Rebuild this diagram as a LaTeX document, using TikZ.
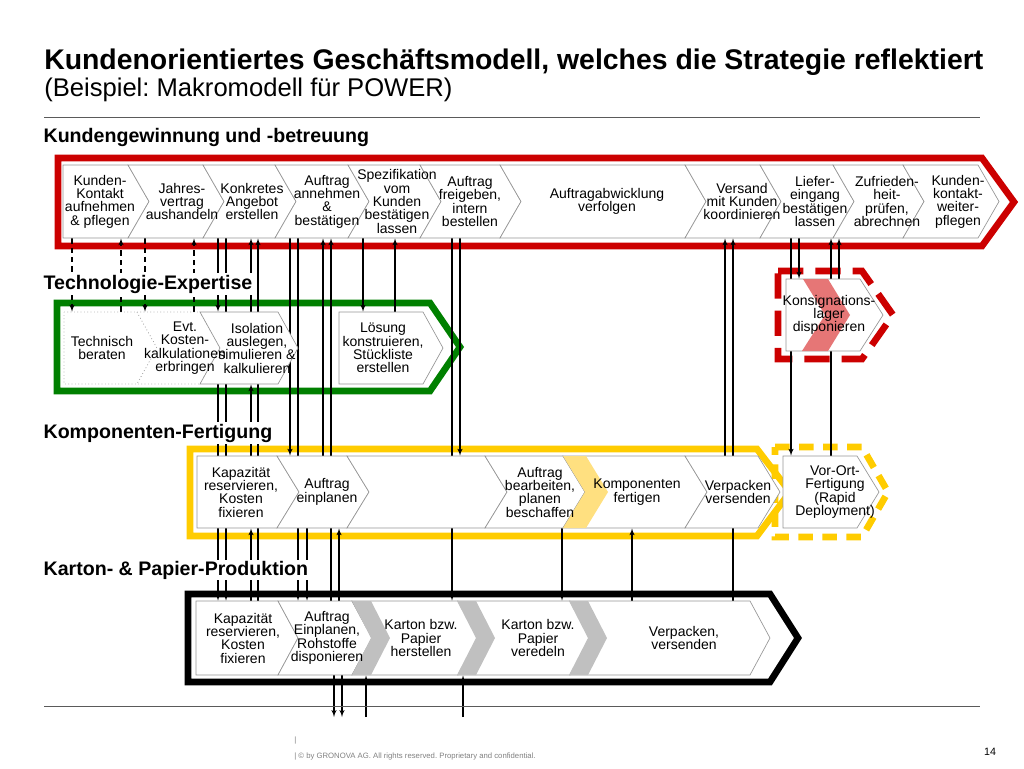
\documentclass[tikz,border=0pt]{standalone}
\usepackage{fontspec}
\setmainfont{Liberation Sans}
\frenchspacing
\usetikzlibrary{arrows,positioning,calc}
\definecolor{bandred}{RGB}{204,0,0}
\definecolor{bandgreen}{RGB}{0,128,0}
\definecolor{bandyellow}{RGB}{255,204,0}
\definecolor{boxgray}{RGB}{150,150,150}
\definecolor{rulegray}{RGB}{90,90,90}
\definecolor{markred}{RGB}{230,118,118}
\definecolor{markyellow}{RGB}{255,224,128}
\definecolor{markgray}{RGB}{192,192,192}
\tikzstyle{band}=[line width=5pt,line join=miter]
\tikzstyle{chevbox}=[draw=boxgray,fill=white,line width=0.5pt]
\tikzstyle{boxtext}=[align=center,inner sep=1pt,font=\fontsize{10.5}{10}\selectfont]
\tikzstyle{heading}=[anchor=west,fill=white,inner sep=1pt,font=\fontsize{14.7}{16}\selectfont\bfseries]
\tikzstyle{link}=[->,>=latex',line width=0.8pt]
\pgfdeclarelayer{back}
\pgfdeclarelayer{boxes}
\pgfdeclarelayer{marks}
\pgfsetlayers{back,boxes,marks,main}
% chevron box: [style]{name}{left x}{right x}{notch}{text x}{text}
\newcommand{\chev}[7][]{%
  \begin{pgfonlayer}{boxes}
    \draw[chevbox,#1] (#3,\ytop) -- (#4,\ytop) -- (#4+\tipd,\ymid) -- (#4,\ybot)
      -- (#3,\ybot) -- (#3+#5,\ymid) -- cycle;
  \end{pgfonlayer}
  \node[boxtext,minimum height={(\ybot-\ytop)*0.75pt}] (#2) at (#6,\ymid) {#7};}

\begin{document}
\begin{tikzpicture}[x=0.75pt,y=-0.75pt]
\useasboundingbox (0,0) rectangle (1024,768);
\node[anchor=base west,inner sep=0,font=\fontsize{21.3}{24}\selectfont\bfseries] (title) at (44,69)
  {Kundenorientiertes Geschäftsmodell, welches die Strategie reflektiert};
\node[anchor=base west,inner sep=0,font=\fontsize{19.2}{22}\selectfont] (subtitle) at (44,96)
  {(Beispiel: Makromodell für POWER)};
\draw[rulegray,line width=0.6pt] (44,117) -- (980,117);

\node[heading] (hKunde) at (42,137) {Kundengewinnung und -betreuung};
\node[heading] (hTech) at (42,284) {Technologie-Expertise};
\node[heading] (hKomp) at (42,433) {Komponenten-Fertigung};
\node[heading] (hKarton) at (42,570) {Karton- \& Papier-Produktion};

% Kundengewinnung
\def\ytop{165}\def\ybot{238}\def\ymid{201.5}\def\tipd{21}
\chev{r1}{63}{128}{0}{100}{Kunden-\\Kontakt\\aufnehmen\\\& pflegen}
\chev{r2}{128}{203}{21}{182}{Jahres-\\vertrag\\aushandeln}
\chev{r3}{203}{275}{21}{252}{Konkretes\\Angebot\\erstellen}
\chev{r4}{275}{348}{21}{327}{Auftrag\\annehmen\\\&\\bestätigen}
\chev{r5}{348}{420}{21}{397}{Spezifikation\\vom\\Kunden\\bestätigen\\lassen}
\chev{r6}{420}{500}{21}{470}{Auftrag\\freigeben,\\intern\\bestellen}
\chev{r7}{500}{685}{21}{607}{Auftragabwicklung\\verfolgen}
\chev{r8}{685}{760}{21}{742}{Versand\\mit Kunden\\koordinieren}
\chev{r9}{760}{833}{21}{815}{Liefer-\\eingang\\bestätigen\\lassen}
\chev{r10}{833}{903}{21}{887}{Zufrieden-\\heit-\\prüfen,\\abrechnen}
\chev{r11}{903}{978}{21}{958}{Kunden-\\kontakt-\\weiter-\\pflegen}

% Technologie
\def\ytop{312}\def\ybot{384}\def\ymid{348}\def\tipd{20}
\chev[dotted]{g1}{64}{137}{0}{102}{Technisch\\beraten}
\chev[dotted]{g2}{137}{200}{20}{185}{Evt.\\Kosten-\\kalkulationen\\erbringen}
\chev{g3}{200}{278}{20}{257}{Isolation\\auslegen,\\simulieren \&\\kalkulieren}
\chev{g4}{339}{423}{0}{383}{Lösung\\konstruieren,\\Stückliste\\erstellen}
\def\ytop{279}\def\ybot{351}\def\ymid{315}\def\tipd{23}
\chev{ks}{786}{860}{0}{829}{Konsignations-\\lager\\disponieren}

% Komponenten
\def\ytop{456}\def\ybot{528}\def\ymid{492}\def\tipd{22}
\chev{y1}{197}{277}{0}{241}{Kapazität\\reservieren,\\Kosten\\fixieren}
\chev{y2}{277}{347}{22}{327}{Auftrag\\einplanen}
\chev{y3}{347}{485}{22}{427}{}
\chev{y4}{485}{563}{22}{540}{Auftrag\\bearbeiten,\\planen\\beschaffen}
\chev{y5}{563}{685}{22}{637}{Komponenten\\fertigen}
\chev{y6}{685}{758}{22}{738}{Verpacken\\versenden}
\chev{vo}{783}{857}{0}{835}{Vor-Ort-\\Fertigung\\(Rapid\\Deployment)}

% Karton
\def\ytop{601}\def\ybot{675}\def\ymid{638}\def\tipd{20}
\chev{k1}{196}{278}{0}{243}{Kapazität\\reservieren,\\Kosten\\fixieren}
\chev{k2}{278}{352}{20}{327}{Auftrag\\Einplanen,\\Rohstoffe\\disponieren}
\chev{k3}{352}{458}{20}{421}{Karton bzw.\\Papier\\herstellen}
\chev{k4}{458}{570}{20}{538}{Karton bzw.\\Papier\\veredeln}
\chev{k5}{570}{750}{20}{684}{Verpacken,\\versenden}

\begin{pgfonlayer}{marks}
\fill[markred] (803,279) -- (828,279) -- (850,315) -- (828,351) -- (802,351) -- (825,315) -- cycle;
\fill[markyellow] (563,456) -- (586,456) -- (608,492) -- (586,528) -- (563,528) -- (585,492) -- cycle;
\foreach \x in {352,457,569}
  \fill[markgray] (\x,601) -- (\x+19,601) -- (\x+38,638) -- (\x+19,675) -- (\x,675) -- (\x+19,638) -- cycle;
\end{pgfonlayer}

\begin{pgfonlayer}{back}
\draw[band,bandred,dash pattern=on 19pt off 9pt] (778,271) -- (862,271) -- (893,315) -- (862,359) -- (778,359) -- cycle;
\draw[band,bandyellow,dash pattern=on 11pt off 7pt] (775,447) -- (862,447) -- (888,492) -- (862,537) -- (775,537) -- cycle;
\draw[band,bandred] (58,158) -- (982,158) -- (1014,202) -- (982,246) -- (58,246) -- cycle;
\draw[band,bandgreen] (57,303) -- (430,303) -- (460,347) -- (430,391) -- (57,391) -- cycle;
\draw[band,bandyellow] (190,449) -- (757,449) -- (790,492) -- (757,536) -- (190,536) -- cycle;
\draw[band,black] (188,594) -- (770,594) -- (798,638) -- (770,682) -- (188,682) -- cycle;
% links
\foreach \x/\a/\b in {72/r1/g1,145/r2/g2}
  \draw[link,dash pattern=on 4pt off 3pt] (\a.south-|\x,0) -- (\b.north-|\x,0);
\foreach \x/\a/\b in {121/g1/r1,194/g2/r2}
  \draw[link,dash pattern=on 4pt off 3pt] (\a.north-|\x,0) -- (\b.south-|\x,0);
\foreach \x/\a/\b in {218/r3/g3,226/r3/k1,290/r4/y2,298/r4/k2,363/r5/g4,452/r6/k3,460/r6/y3,
    791/r9/vo,799/r9/ks,218/g3/k1,307/y2/k2,562/y4/k4}
  \draw[link] (\a.south-|\x,0) -- (\b.north-|\x,0);
\foreach \x/\a/\b in {251/g3/r3,258/k1/r3,323/y2/r4,331/k2/r4,395/g4/r5,725/y6/r8,733/k5/r8,
    831/vo/r9,839/ks/r10,251/k1/y1,251/y1/g3,339/k2/y2,632/k5/y5}
  \draw[link] (\a.north-|\x,0) -- (\b.south-|\x,0);
\coordinate (out) at (0,717);
\foreach \x in {334,342}
  \draw[link] (k2.south-|\x,0) -- (out-|\x,0);
\foreach \x/\b in {366/k3,463/k4}
  \draw[link] (out-|\x,0) -- (\b.south-|\x,0);
\end{pgfonlayer}

\draw[rulegray,line width=0.6pt] (44,706) -- (980,706);
\node[anchor=west,inner sep=0,text=gray,font=\fontsize{5.8}{7}\selectfont] (bar) at (294,741) {|};
\node[anchor=west,inner sep=0,text=gray,font=\fontsize{5.8}{7}\selectfont] (copy) at (294,757)
  {| © by GRONOVA AG. All rights reserved. Proprietary and confidential.};
\node[inner sep=0,font=\fontsize{8}{9}\selectfont] (page) at (990,752) {14};
\end{tikzpicture}
\end{document}
